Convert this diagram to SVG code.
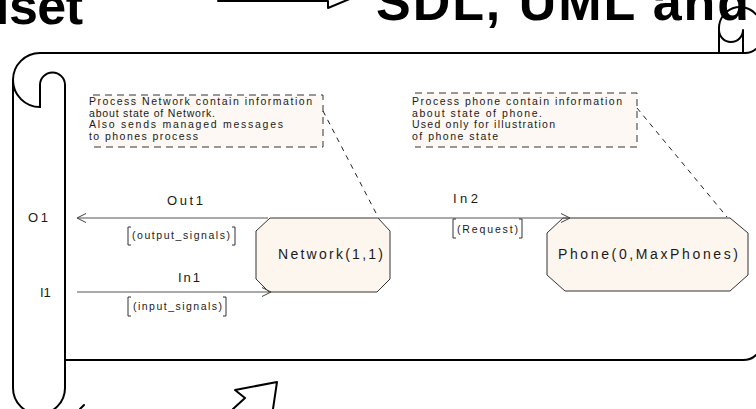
<svg xmlns="http://www.w3.org/2000/svg" width="756" height="409" viewBox="0 0 756 409">
  <defs>
    <style>
      .scroll{fill:none;stroke:#000;stroke-width:2;stroke-linejoin:round;stroke-linecap:round}
      .title{font-family:"Liberation Sans",Arial,sans-serif;font-weight:bold;font-size:52px;fill:#000}
      .node{fill:#FDF6EF;stroke:#333;stroke-width:1}
      .ntext{font-family:"Liberation Sans",Arial,sans-serif;font-size:14px;fill:#1a1a1a}
      .cbox{fill:#FDF8F3;stroke:none}
      .cedge{fill:none;stroke:#333;stroke-width:1;stroke-dasharray:7 5}
      .ctext{font-family:"Liberation Sans",Arial,sans-serif;font-size:10.5px;fill:#1a1a1a}
      .flow{fill:none;stroke:#555;stroke-width:1}
      .dash{fill:none;stroke:#222;stroke-width:1;stroke-dasharray:5 5}
      .label{font-family:"Liberation Sans",Arial,sans-serif;font-size:13px;fill:#1a1a1a}
      .sig{font-family:"Liberation Sans",Arial,sans-serif;font-size:10.5px;fill:#1a1a1a}
      .bracket{fill:none;stroke:#333;stroke-width:1}
    </style>
    <marker id="open" markerUnits="userSpaceOnUse" markerWidth="12" markerHeight="12" viewBox="-10 -6 12 12" refX="0" refY="0" orient="auto">
      <path d="M-9,-4.5 L0,0 L-9,4.5" fill="none" stroke="#444" stroke-width="1"/>
    </marker>
  </defs>

  <!-- slide heading -->
  <text class="title" x="-5" y="24" textLength="88" lengthAdjust="spacing">lset</text>
  <path class="scroll" d="M218,1 H328 V8 L352,-2"/>
  <text class="title" x="376" y="20" textLength="373" lengthAdjust="spacing">SDL, UML and</text>

  <!-- scroll-shaped block frame -->
  <g id="frame">
    <path class="scroll" d="M40,53 H745 Q752,53 756,49"/>
    <path class="scroll" d="M40,53 A27,27 0 0 0 40,107"/>
    <path class="scroll" d="M13,80 V388 A26,26 0 0 0 65,388 V85 A12.5,12.5 0 0 0 40,85 V107"/>
    <path class="scroll" d="M65,360 H743 Q751,360 756,355"/>
    <path class="scroll" d="M719,53 V28 A21,21 0 0 1 756,14.4"/>
    <path class="scroll" d="M719,30 A12,12 0 0 0 743,30 V53"/>
    <path class="scroll" d="M233,409 L245,398 L235,390 L277,382 L273,409"/>
    <path class="scroll" d="M80,409 L84,405"/>
  </g>

  <!-- comment symbols -->
  <g id="comment-network">
    <rect class="cbox" x="93" y="95" width="230" height="52"/>
    <path class="cedge" d="M93,95 H323 V147 H93"/>
    <text class="ctext" x="89" y="105" textLength="223" lengthAdjust="spacing">Process Network contain information</text>
    <text class="ctext" x="89" y="116.5" textLength="126" lengthAdjust="spacing">about state of Network.</text>
    <text class="ctext" x="89" y="128" textLength="194" lengthAdjust="spacing">Also sends managed messages</text>
    <text class="ctext" x="89" y="139.5" textLength="109" lengthAdjust="spacing">to phones process</text>
  </g>
  <g id="comment-phone">
    <rect class="cbox" x="415" y="93" width="222" height="54"/>
    <path class="cedge" d="M415,93 H637 V147 H415"/>
    <text class="ctext" x="412" y="105" textLength="210" lengthAdjust="spacing">Process phone contain information</text>
    <text class="ctext" x="412" y="116.5" textLength="130" lengthAdjust="spacing">about state of phone.</text>
    <text class="ctext" x="412" y="128" textLength="143" lengthAdjust="spacing">Used only for illustration</text>
    <text class="ctext" x="412" y="139.5" textLength="86" lengthAdjust="spacing">of phone state</text>
  </g>

  <!-- processes -->
  <g id="network">
    <polygon class="node" points="270,218 378,218 390,231 390,279 377,292 269,292 256,279 256,231"/>
    <text class="ntext" x="278" y="259" textLength="105" lengthAdjust="spacing">Network(1,1)</text>
  </g>
  <g id="phone">
    <polygon class="node" points="563,218 730,218 748,233 748,275 730,291 565,291 547,275 547,233"/>
    <text class="ntext" x="558" y="259" textLength="180" lengthAdjust="spacing">Phone(0,MaxPhones)</text>
  </g>

  <!-- gates -->
  <g id="gate-o1"><text class="label" x="28" y="222" textLength="20" lengthAdjust="spacing">O1</text></g>
  <g id="gate-i1"><text class="label" x="40" y="297">I1</text></g>

  <!-- channels and comment links -->
  <g id="connectors">
    <path class="flow" d="M268,218 H77" marker-end="url(#open)"/>
    <path class="flow" d="M378,218 H570" marker-end="url(#open)"/>
    <path class="flow" d="M77,292 H271" marker-end="url(#open)"/>
    <path class="dash" d="M323,111 L377,215"/>
    <path class="dash" d="M637,108 L727,217"/>

    <text class="label" x="167" y="205" textLength="36" lengthAdjust="spacing">Out1</text>
    <path class="bracket" d="M131,227 H128 V245 H131 M232,227 H235 V245 H232"/>
    <text class="sig" x="132" y="239" textLength="98" lengthAdjust="spacing">(output_signals)</text>

    <text class="label" x="453" y="203" textLength="25" lengthAdjust="spacing">In2</text>
    <path class="bracket" d="M456,219 H453 V238 H456 M519,219 H522 V238 H519"/>
    <text class="sig" x="457" y="233" textLength="61" lengthAdjust="spacing">(Request)</text>

    <text class="label" x="178" y="282" textLength="22" lengthAdjust="spacing">In1</text>
    <path class="bracket" d="M131,297 H128 V316 H131 M223,297 H226 V316 H223"/>
    <text class="sig" x="133" y="310" textLength="89" lengthAdjust="spacing">(input_signals)</text>
  </g>
</svg>
